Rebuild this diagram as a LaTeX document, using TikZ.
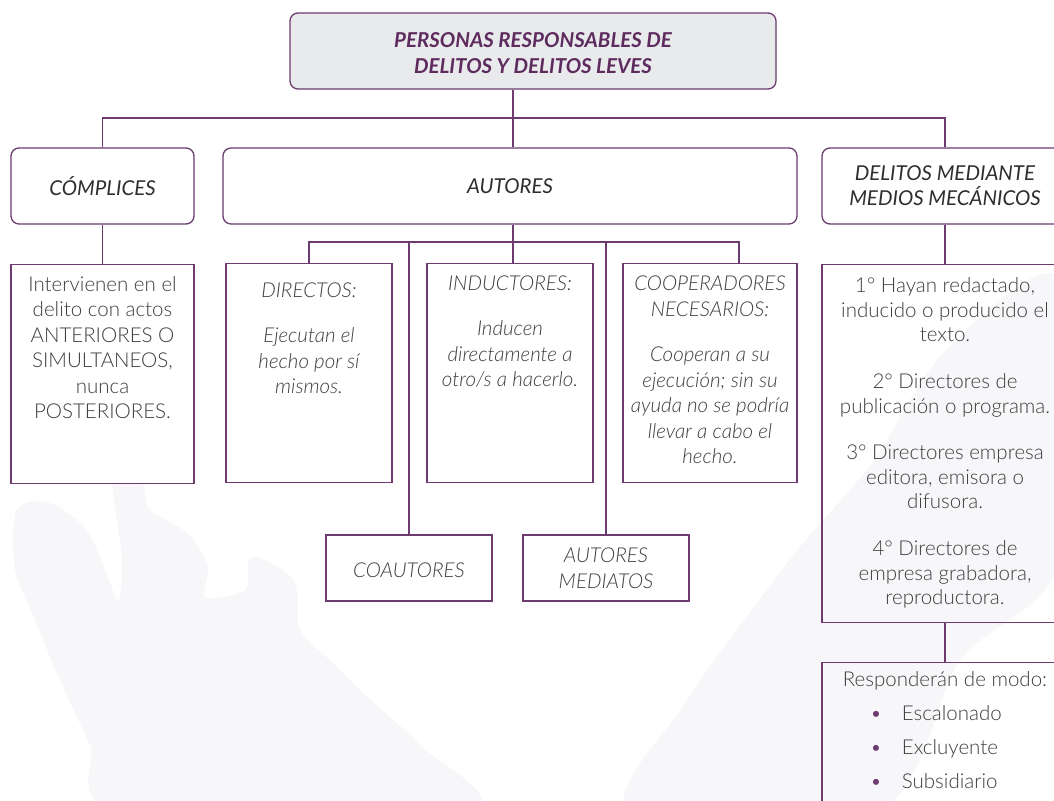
\documentclass[tikz,border=0pt]{standalone}
\usepackage{fontspec}
\setmainfont{Lato}
\IfFontExistsTF{Lato Light}{\newfontfamily\ligera{Lato Light}}{\newfontfamily\ligera{Lato}}
\usetikzlibrary{positioning}

\definecolor{morado}{HTML}{6D3B6F}
\definecolor{moradotit}{HTML}{5E2B5F}
\definecolor{grisfondo}{HTML}{E9EAEC}
\definecolor{griscab}{HTML}{2E2E2E}
\definecolor{gristxt}{HTML}{3E3E3E}
\definecolor{marca}{HTML}{F7F6F9}

\newcommand{\caja}[4]{\parbox[c][#1][t]{#2}{\centering\rule{0pt}{#3}#4}}

\tikzset{
	cabecera/.style={draw=morado, line width=1.3pt, rounded corners=8pt, align=center, inner sep=0pt, font=\fontsize{20.5}{25}\selectfont\itshape, text=griscab},
	cuadro/.style={draw=morado, line width=1.3pt, inner sep=0pt, align=center, font=\ligera\fontsize{20.5}{25.5}\selectfont, text=gristxt},
	cursiva/.style={font=\ligera\fontsize{20.5}{25.5}\selectfont\itshape},
	linea/.style={draw=morado, line width=1.3pt},
}

\begin{document}
\begin{tikzpicture}[x=1pt, y=-1pt]
	\useasboundingbox (0,0) rectangle (1054,800);
	\clip (0,0) rectangle (1054,800);
	\fill[white] (0,0) rectangle (1054,800);

	% marca de agua
	\fill[marca] plot[smooth cycle] coordinates {(15,515) (30,502) (55,505) (85,528) (102,562) (118,600) (122,560) (112,475) (128,466) (143,485) (150,510) (187,533) (208,566) (205,597) (245,590) (250,558) (275,565) (296,585) (300,630) (335,665) (365,695) (420,745) (470,810) (120,810) (90,745) (60,680) (35,620) (15,570)};
	\fill[marca] plot[smooth cycle] coordinates {(631,810) (685,703) (792,557) (872,463) (946,350) (1060,280) (1060,560) (960,660) (880,810)};

	\node[cabecera, fill=grisfondo, text=moradotit, font=\fontsize{20.5}{26}\selectfont\bfseries\itshape, minimum width=486, minimum height=76] (tit) at (533,51) {\rule{0pt}{19pt}PERSONAS RESPONSABLES DE\\DELITOS Y DELITOS LEVES};

	\node[cabecera, fill=white, minimum width=183, minimum height=76] (comp) at (102.5,186) {CÓMPLICES};
	\node[cabecera, fill=white, minimum width=574, minimum height=76] (aut) at (510,186) {AUTORES};
	\node[cabecera, fill=white, minimum width=246, minimum height=76] (med) at (945,186) {DELITOS MEDIANTE\\MEDIOS MECÁNICOS};

	\node[cuadro, fill=white, below=39pt of comp] (compt) {\caja{219pt}{183pt}{27pt}{Intervienen en el\\delito con actos\\ANTERIORES O\\SIMULTANEOS,\\nunca\\POSTERIORES.}};

	\node[cuadro, cursiva, fill=white, anchor=north] (dir) at (309,263) {\caja{219pt}{166pt}{34pt}{DIRECTOS:\\[19.5pt]Ejecutan el\\hecho por sí\\mismos.}};
	\node[cuadro, cursiva, fill=white, anchor=north] (ind) at (510,263) {\caja{219pt}{166pt}{27pt}{INDUCTORES:\\[19.5pt]Inducen\\directamente a\\otro/s a hacerlo.}};
	\node[cuadro, cursiva, fill=white, anchor=north] (coop) at (710,263) {\caja{219pt}{174pt}{27pt}{COOPERADORES\\NECESARIOS:\\[20pt]Cooperan a su\\ejecución; sin su\\ayuda no se podría\\llevar a cabo el\\hecho.}};

	\node[cuadro, cursiva, fill=white, minimum width=166, minimum height=66] (coa) at (409,568) {\rule{0pt}{19pt}COAUTORES};
	\node[cuadro, cursiva, fill=white, minimum width=166, minimum height=66] (amed) at (606,568) {AUTORES\\MEDIATOS};

	\node[cuadro, font=\ligera\fontsize{20.5}{24.8}\selectfont, below=39pt of med] (medt) {\caja{358pt}{246pt}{28pt}{1° Hayan redactado,\\inducido o producido el\\texto.\\[21.5pt]2° Directores de\\publicación o programa.\\[21.5pt]3° Directores empresa\\editora, emisora o\\difusora.\\[21.5pt]4° Directores de\\empresa grabadora,\\reproductora.}};
	\node[cuadro, below=39pt of medt] (resp) {\caja{160pt}{246pt}{24pt}{Responderán de modo:\\[8.5pt]
		\makebox[\linewidth][l]{\hspace{48pt}\textcolor{morado}{\textbullet}\hspace{20pt}Escalonado}\\[8.5pt]
		\makebox[\linewidth][l]{\hspace{48pt}\textcolor{morado}{\textbullet}\hspace{20pt}Excluyente}\\[8.5pt]
		\makebox[\linewidth][l]{\hspace{48pt}\textcolor{morado}{\textbullet}\hspace{20pt}Subsidiario}}};

	\coordinate (b1) at (513,118);
	\coordinate (b2) at (513,242);
	\coordinate (b3) at (739,242);

	\draw[linea] (b1 |- tit.south) -- (b1 |- aut.north);
	\draw[linea] (comp.north) |- (b1) -| (med.north);
	\draw[linea] (comp.south) -- (compt.north);
	\draw[linea] (b2 |- aut.south) -- (b2 |- ind.north);
	\draw[linea] (dir.north) |- (b3) -- (b3 |- coop.north);
	\draw[linea] (coa.north) -- (coa.north |- b2);
	\draw[linea] (amed.north) -- (amed.north |- b2);
	\draw[linea] (med.south) -- (medt.north);
	\draw[linea] (medt.south) -- (resp.north);
\end{tikzpicture}
\end{document}
